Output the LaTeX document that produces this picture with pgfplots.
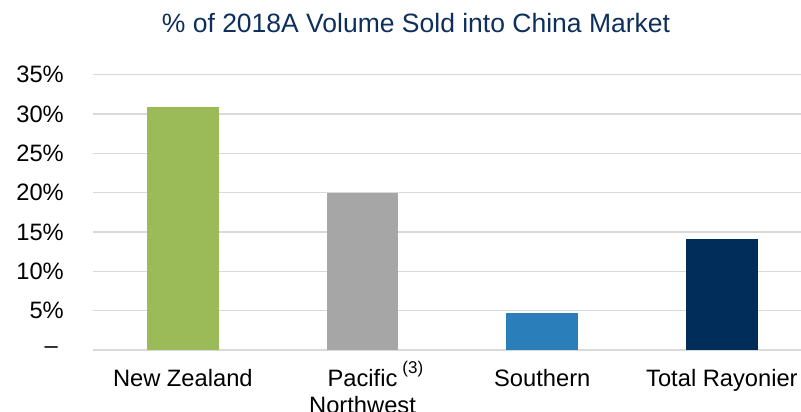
\documentclass[border=0pt]{standalone}
\usepackage{fontspec}
\setmainfont{Liberation Sans}
\usepackage{pgfplots}
\pgfplotsset{compat=1.18}
\definecolor{nzgreen}{HTML}{9BBB59}
\definecolor{pnwgray}{HTML}{A6A6A6}
\definecolor{southblue}{HTML}{2A7FBA}
\definecolor{totalnavy}{HTML}{002D5A}
\definecolor{titleblue}{HTML}{0E2F5C}
\definecolor{gridgray}{HTML}{D9D9D9}
\begin{document}
\begin{tikzpicture}
\begin{axis}[
  at={(0,0)}, anchor=south west,
  scale only axis, width=708bp, height=275.3bp,
  xmin=-0.5, xmax=3.44, ymin=0, ymax=35,
  axis line style={draw=none},
  major tick length=0pt,
  ytick={0,5,10,15,20,25,30,35},
  yticklabels={–\hspace*{6bp},5\%,10\%,15\%,20\%,25\%,30\%,35\%},
  ymajorgrids, grid style={line width=1.5bp, color=gridgray},
  xtick={0,1,2,3},
  xticklabels={New Zealand,{\begin{tabular}[t]{@{}c@{}}Pacific\rlap{\hspace{5bp}\raisebox{12.7bp}{\fontsize{17bp}{17bp}\selectfont(3)}}\\Northwest\end{tabular}},Southern,Total Rayonier},
  xticklabel style={anchor=base, yshift=-36bp, inner sep=0pt, font=\fontsize{23.7bp}{27.7bp}\selectfont},
  yticklabel style={anchor=east, inner sep=0pt, xshift=-29bp, font=\fontsize{23.7bp}{27.7bp}\selectfont},
  ybar, bar width=0.4, bar shift=0pt,
]
\addplot[fill=nzgreen, draw=none] coordinates {(0,30.9)};
\addplot[fill=pnwgray, draw=none] coordinates {(1,20.0)};
\addplot[fill=southblue, draw=none] coordinates {(2,4.7)};
\addplot[fill=totalnavy, draw=none] coordinates {(3,14.1)};
\end{axis}
\node[anchor=base, inner sep=0pt, text=titleblue, font=\fontsize{26.5bp}{30bp}\selectfont] at (323bp,317bp) {\% of 2018A Volume Sold into China Market};
\pgfresetboundingbox
\path (-93bp,-62bp) rectangle (708bp,350bp);
\end{tikzpicture}
\end{document}
